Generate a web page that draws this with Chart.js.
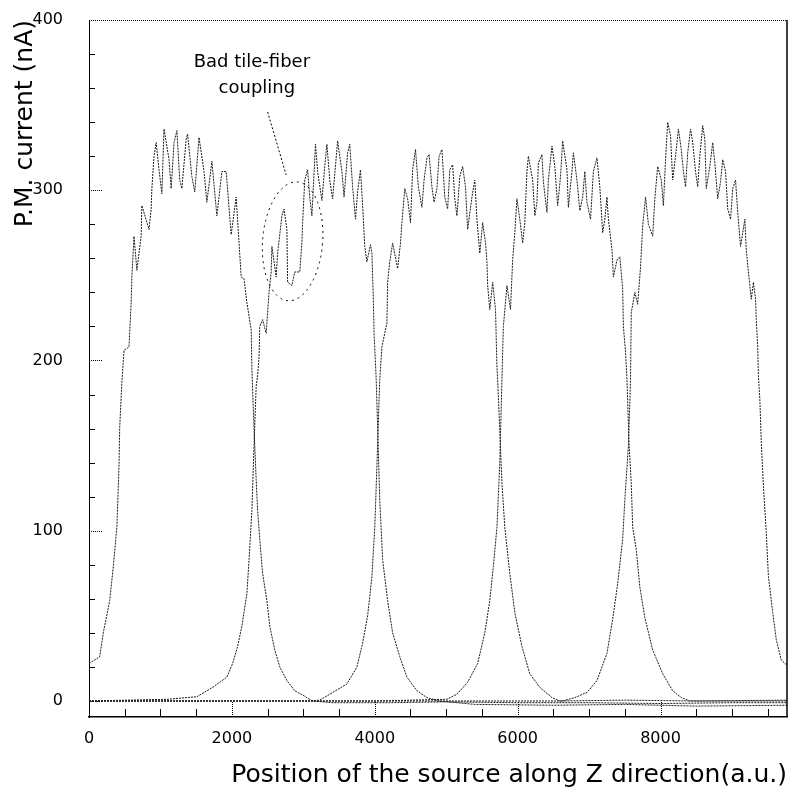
<!DOCTYPE html>
<html>
<head>
<meta charset="utf-8">
<script src="https://cdn.jsdelivr.net/npm/chart.js@4.4.0/dist/chart.umd.min.js"></script>
<style>
  html, body { margin: 0; padding: 0; background: #fff; }
  #wrap { width: 802px; height: 790px; position: relative; }
</style>
</head>
<body>
<div id="wrap"><canvas id="chart"></canvas></div>
<script>
// PMT current vs. source position, one curve per tile row
const x1 = [0,150,200,290,340,390,420,430,460,490,560,590,600,630,670,730,740,840,870,880,910,940,980,1020,1050,1120,1150,1190,1230,1270,1300,1360,1380,1440,1480,1540,1610,1650,1720,1790,1860,1920,1990,2060,2130,2170,2210,2270,2280,2310,2340,2360,2390,2430,2490,2530,2600,2670,2770,2880,2990,3130,3400,4200,5000,6000,7000,8000,9000,9770];
const y1 = [22,26,40,59,79,102,138,161,187,206,208,234,249,273,253,273,291,277,289,301,320,328,312,298,336,318,301,328,335,306,301,330,333,308,299,331,311,293,317,285,311,311,274,296,249,248,234,218,195,160,130,112,95,75,59,44,30,20,12,6,3.5,0,-1,-1,-0.5,-1,-1,-1.5,-1,-1];

const x2 = [0,1090,1510,1730,1930,2010,2080,2140,2210,2240,2280,2310,2340,2360,2380,2390,2430,2480,2500,2520,2550,2560,2620,2640,2700,2730,2770,2780,2840,2880,2950,2980,2990,3020,3060,3090,3120,3170,3200,3260,3300,3330,3370,3410,3470,3480,3540,3570,3620,3650,3690,3730,3760,3800,3830,3860,3890,3940,3960,3980,3990,4020,4070,4110,4180,4250,4350,4450,4590,4730,4900,5400,6500,7500,8500,9770];
const y2 = [0,1,2.5,8,14,22,32,44,63,83,112,150,185,191,202,220,224,216,228,240,252,267,249,263,285,289,277,246,244,252,252,269,281,306,312,296,285,327,311,294,314,327,306,295,324,329,311,296,322,327,302,283,299,312,291,267,258,268,263,236,216,189,118,83,59,40,26,14,6,2,0,-2,-2.5,-2,-3,-2.5];

const x3 = [0,3100,3230,3410,3610,3750,3830,3900,3960,4000,4030,4070,4100,4170,4180,4210,4250,4320,4360,4380,4420,4460,4500,4530,4570,4610,4660,4690,4730,4760,4800,4830,4870,4900,4940,4980,5020,5050,5090,5120,5150,5190,5230,5270,5300,5360,5400,5430,5470,5510,5550,5570,5580,5610,5650,5690,5710,5720,5780,5820,5890,5960,6060,6170,6310,6480,6590,7500,8500,9770];
const y3 = [0,0,0.5,5,10,20,34,50,73,102,138,189,208,222,246,258,269,254,269,281,301,295,281,312,324,302,290,306,319,321,302,293,301,320,324,296,289,312,315,295,285,308,314,302,277,296,306,283,263,281,269,258,244,230,246,230,196,189,128,102,75,52,32,16,8,2,0,0.5,0,0.5];

const x4 = [0,4000,5010,5150,5300,5440,5540,5610,5660,5710,5750,5780,5800,5850,5900,5930,5960,5990,6030,6070,6100,6130,6150,6210,6240,6270,6290,6340,6360,6410,6430,6480,6520,6560,6600,6630,6690,6710,6760,6780,6830,6870,6910,6940,6970,7020,7060,7110,7150,7190,7220,7250,7270,7320,7340,7390,7430,7470,7480,7510,7530,7560,7590,7610,7660,7710,7780,7890,8030,8170,8290,8410,9000,9770];
const y4 = [0,0,1,4,11,22,40,59,79,102,140,189,220,244,230,259,275,295,283,269,281,311,320,306,285,293,316,321,305,287,306,326,314,291,308,329,312,290,311,322,306,288,296,311,293,283,311,319,302,275,283,296,283,265,249,259,261,242,220,205,189,150,128,102,89,67,49,30,16,6,2,0,0,0];

const x5 = [0,5500,6630,6800,6970,7110,7250,7330,7400,7470,7500,7550,7580,7590,7640,7680,7720,7750,7790,7830,7890,7920,7960,8010,8040,8070,8100,8140,8170,8210,8250,8290,8320,8350,8380,8420,8450,8490,8520,8550,8590,8620,8640,8690,8730,8760,8800,8840,8870,8910,8940,8980,9010,9050,9080,9120,9150,9180,9200,9230,9270,9300,9330,9340,9360,9370,9390,9410,9440,9480,9510,9570,9620,9690,9770];
const y5 = [0,0,0,2,5,12,28,48,69,95,118,150,189,228,240,233,255,279,296,280,273,295,314,306,291,318,340,332,306,320,336,324,311,302,322,336,328,311,302,320,338,330,301,314,328,316,295,305,318,311,289,283,301,306,287,267,275,283,265,252,236,246,236,224,208,191,177,152,126,99,73,52,36,24,21];

const xTicks = [0, 2000, 4000, 6000, 8000];
const yTicks = [0, 100, 200, 300, 400];
const xMin = 0, xMax = 9770, yMin = -9.4, yMax = 400;

const note = ['Bad tile-fiber', 'coupling'];
const ink = '#000';

const pts = (xs, ys) => xs.map((x, i) => ({ x, y: ys[i] }));
const curve = (xs, ys) => ({
  data: pts(xs, ys), borderColor: '#1a1a1a', borderWidth: 1, borderDash: [2, 1],
  pointRadius: 0, tension: 0, fill: false
});

function seg(ctx, ax, ay, bx, by) {
  ctx.beginPath(); ctx.moveTo(ax, ay); ctx.lineTo(bx, by); ctx.stroke();
}

// frame top/right, inward ticks and the annotation
const extras = {
  id: 'extras',
  afterDraw(chart) {
    const { ctx, chartArea: a, scales: { x, y } } = chart;
    ctx.save();
    ctx.strokeStyle = ink;
    ctx.lineWidth = 1;
    ctx.setLineDash([1, 1]);
    seg(ctx, a.left, a.top + 0.5, a.right, a.top + 0.5);
    ctx.setLineDash([]);
    ctx.lineWidth = 1.5;
    seg(ctx, a.right, a.top, a.right, a.bottom);

    ctx.lineWidth = 1;
    for (let v = 500; v < xMax; v += 500) {
      const px = Math.round(x.getPixelForValue(v)) + 0.5;
      const major = v % 2000 === 0;
      ctx.setLineDash(major ? [1, 1] : []);
      seg(ctx, px, a.bottom, px, a.bottom - (major ? 16 : 8));
    }
    for (let v = 0; v <= yMax; v += 20) {
      const py = Math.round(y.getPixelForValue(v)) + 0.5;
      const major = v % 100 === 0;
      ctx.setLineDash(major ? [1, 1] : []);
      seg(ctx, a.left, py, a.left + (major ? 14 : 6), py);
    }

    // "bad coupling" note
    ctx.fillStyle = ink;
    ctx.font = '18px "DejaVu Sans"';
    ctx.textAlign = 'center';
    ctx.textBaseline = 'middle';
    ctx.fillText(note[0], x.getPixelForValue(2280), y.getPixelForValue(375));
    ctx.fillText(note[1], x.getPixelForValue(2350), y.getPixelForValue(360));

    ctx.setLineDash([2, 2]);
    seg(ctx, x.getPixelForValue(2500), y.getPixelForValue(346),
             x.getPixelForValue(2760), y.getPixelForValue(309));

    const cx = x.getPixelForValue(2850), cy = y.getPixelForValue(270);
    const rx = x.getPixelForValue(3270) - cx, ry = cy - y.getPixelForValue(305);
    ctx.setLineDash([2, 4]);
    ctx.beginPath();
    ctx.ellipse(cx, cy, rx, ry, 0.08, 0, Math.PI * 2);
    ctx.stroke();
    ctx.restore();
  }
};

new Chart(document.getElementById('chart'), {
  type: 'line',
  data: {
    datasets: [curve(x1, y1), curve(x2, y2), curve(x3, y3), curve(x4, y4), curve(x5, y5)]
  },
  options: {
    responsive: true,
    maintainAspectRatio: false,
    animation: false,
    layout: { padding: { top: 20, right: 15, left: 0, bottom: 0 } },
    plugins: { legend: { display: false }, tooltip: { enabled: false } },
    scales: {
      x: {
        type: 'linear', min: xMin, max: xMax,
        afterBuildTicks: s => { s.ticks = xTicks.map(v => ({ value: v })); },
        afterFit: s => { s.height = 73; s.paddingLeft = 0; s.paddingRight = 0; },
        grid: { display: false },
        border: { display: true, color: ink, width: 1.5 },
        ticks: { color: ink, padding: 4, maxRotation: 0, callback: v => String(v),
          font: { family: 'DejaVu Sans', size: 16 } },
        title: { display: true, text: 'Position of the source along Z direction(a.u.)', align: 'end',
          color: ink, padding: { top: 0, bottom: 0 }, font: { family: 'DejaVu Sans', size: 25 } }
      },
      y: {
        type: 'linear', min: yMin, max: yMax,
        afterBuildTicks: s => { s.ticks = yTicks.map(v => ({ value: v })); },
        afterFit: s => { s.width = 89; s.paddingTop = 0; s.paddingBottom = 0; },
        grid: { display: false },
        border: { display: true, color: ink, width: 1, dash: [1, 1] },
        ticks: { color: ink, padding: 18, callback: v => String(v),
          font: { family: 'DejaVu Sans', size: 16 } },
        title: { display: true, text: 'P.M. current (nA)', align: 'end',
          color: ink, padding: { top: 10, bottom: 0 }, font: { family: 'DejaVu Sans', size: 25 } }
      }
    }
  },
  plugins: [extras]
});
</script>
</body>
</html>
